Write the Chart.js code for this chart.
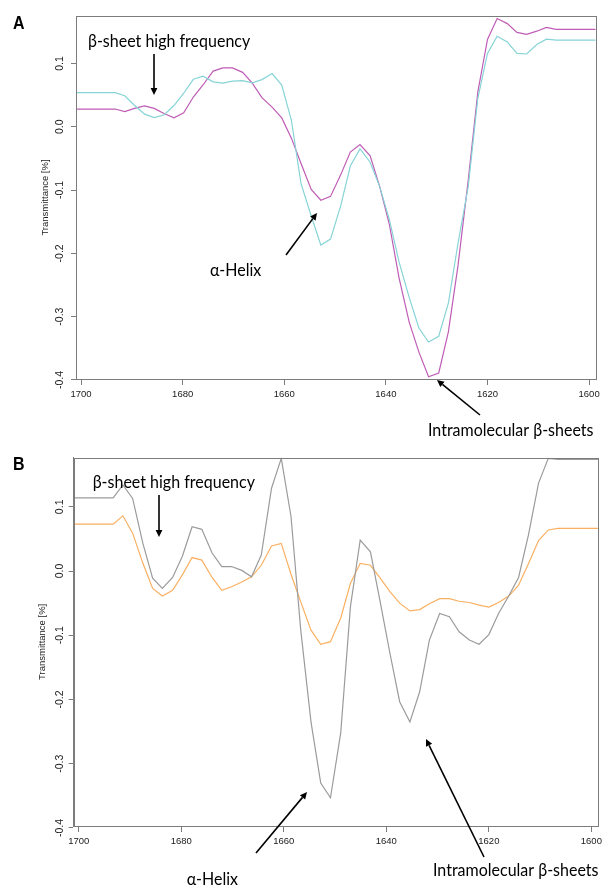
<!DOCTYPE html>
<html>
<head>
<meta charset="utf-8">
<title>Amide I second-derivative spectra</title>
<script src="https://cdn.jsdelivr.net/npm/chart.js@4.4.1/dist/chart.umd.min.js"></script>
<style>
  html, body { margin: 0; padding: 0; background: #fff; }
  #page { position: relative; width: 606px; height: 886px; overflow: hidden; background: #fff; }
  #page canvas { position: absolute; left: 0; }
  #panel-a { top: 0; }
  #panel-b { top: 445px; }
</style>
</head>
<body>
<div id="page">
  <canvas id="panel-a" width="606" height="445" style="width:606px;height:445px"></canvas>
  <canvas id="panel-b" width="606" height="441" style="width:606px;height:441px"></canvas>
</div>
<script>
'use strict';

// ── Data ───────────────────────────────────────────────────────────────────
// wavenumber grid (cm-1), ~1.93 cm-1 spacing, high to low
const wavenumbers = [
  1701.0, 1699.1, 1697.2, 1695.3, 1693.3, 1691.4, 1689.5, 1687.5, 1685.6, 1683.7,
  1681.7, 1679.8, 1677.9, 1676.0, 1674.0, 1672.1, 1670.2, 1668.2, 1666.3, 1664.4,
  1662.4, 1660.5, 1658.6, 1656.7, 1654.7, 1652.8, 1650.9, 1648.9, 1647.0, 1645.1,
  1643.1, 1641.2, 1639.3, 1637.4, 1635.4, 1633.5, 1631.6, 1629.6, 1627.7, 1625.8,
  1623.8, 1621.9, 1620.0, 1618.1, 1616.1, 1614.2, 1612.3, 1610.3, 1608.4, 1606.5,
  1604.5, 1602.6, 1600.7, 1598.7
];

// panel A
const magentaA = [
  0.028, 0.028, 0.028, 0.028, 0.028, 0.024, 0.029, 0.033, 0.029, 0.021,
  0.014, 0.022, 0.047, 0.066, 0.088, 0.093, 0.093, 0.086, 0.069, 0.046,
  0.031, 0.014, -0.018, -0.058, -0.099, -0.116, -0.110, -0.076, -0.040, -0.028,
  -0.046, -0.095, -0.155, -0.239, -0.309, -0.356, -0.395, -0.389, -0.324, -0.219,
  -0.085, 0.055, 0.138, 0.171, 0.163, 0.149, 0.146, 0.151, 0.157, 0.154,
  0.154, 0.154, 0.154, 0.154
];
const cyanA = [
  0.054, 0.054, 0.054, 0.054, 0.054, 0.049, 0.034, 0.020, 0.0145, 0.0185,
  0.0335, 0.053, 0.075, 0.080, 0.071, 0.069, 0.072, 0.073, 0.0695, 0.0745,
  0.084, 0.066, 0.010, -0.090, -0.141, -0.187, -0.1775, -0.125, -0.062, -0.035,
  -0.056, -0.095, -0.147, -0.214, -0.270, -0.318, -0.340, -0.331, -0.2785, -0.184,
  -0.095, 0.045, 0.116, 0.143, 0.134, 0.116, 0.115, 0.130, 0.1385, 0.137,
  0.137, 0.137, 0.137, 0.137
];

// panel B
const grayB = [
  0.114, 0.114, 0.114, 0.114, 0.114, 0.134, 0.113, 0.043, -0.011, -0.027,
  -0.010, 0.023, 0.069, 0.065, 0.028, 0.007, 0.007, 0.001, -0.009, 0.025,
  0.129, 0.1755, 0.085, -0.092, -0.235, -0.330, -0.353, -0.252, -0.055, 0.048,
  0.030, -0.048, -0.128, -0.2035, -0.235, -0.188, -0.1075, -0.066, -0.071, -0.0945,
  -0.1075, -0.114, -0.099, -0.066, -0.0385, -0.010, 0.055, 0.137, 0.1755, 0.174,
  0.174, 0.174, 0.174, 0.174
];
const orangeB = [
  0.073, 0.073, 0.073, 0.073, 0.073, 0.086, 0.059, 0.012, -0.027, -0.039,
  -0.030, -0.006, 0.021, 0.017, -0.010, -0.030, -0.0245, -0.017, -0.009, 0.009,
  0.039, 0.043, -0.005, -0.048, -0.092, -0.114, -0.110, -0.073, -0.019, 0.012,
  0.009, -0.011, -0.032, -0.050, -0.062, -0.060, -0.051, -0.043, -0.043, -0.047,
  -0.049, -0.053, -0.056, -0.049, -0.039, -0.022, 0.011, 0.0475, 0.064, 0.0665,
  0.0665, 0.0665, 0.0665, 0.0665
];

// axes
const xTicks      = [1700, 1680, 1660, 1640, 1620, 1600];
const xTickLabels = ['1700', '1680', '1660', '1640', '1620', '1600'];
const yTicks      = [0.1, 0.0, -0.1, -0.2, -0.3, -0.4];
const yTickLabels = ['0.1', '0.0', '-0.1', '-0.2', '-0.3', '-0.4'];
const yTitle      = 'Transmittance [%]';

// ── Styles ─────────────────────────────────────────────────────────────────
const AXIS_COLOR = '#7c7c7c';
const TEXT_COLOR = '#1a1a1a';
const TICK_FONT  = '"Liberation Sans", Arial, sans-serif';
const NOTE_FONT  = 'Lato, "Open Sans", sans-serif';
const NOTE_STRETCH = 1.1;

// ── Plugin: box, rotated y labels, annotations ────────────────────────────
const panelDecor = {
  id: 'panelDecor',
  afterDraw(chart, args, opts) {
    const ctx = chart.ctx;
    const { left, top, right, bottom } = chart.chartArea;

    // plot box
    ctx.save();
    ctx.strokeStyle = AXIS_COLOR;
    ctx.lineWidth = 1;
    ctx.strokeRect(Math.round(left) + 0.5, Math.round(top) + 0.5,
                   Math.round(right - left), Math.round(bottom - top));
    ctx.restore();

    // y tick labels, read bottom-to-top like base R
    const ys = chart.scales.y;
    ctx.save();
    ctx.fillStyle = TEXT_COLOR;
    ctx.font = `10.5px ${TICK_FONT}`;
    ctx.textAlign = 'center';
    ctx.textBaseline = 'alphabetic';
    ys.ticks.forEach((t, i) => {
      const py = ys.getPixelForValue(t.value);
      ctx.save();
      ctx.translate(opts.yLabelX, py);
      ctx.rotate(-Math.PI / 2);
      ctx.fillText(yTickLabels[i], 0, 0);
      ctx.restore();
    });
    ctx.restore();

    // text notes
    (opts.texts || []).forEach(n => {
      ctx.save();
      ctx.fillStyle = '#000';
      ctx.font = n.font || `16px ${NOTE_FONT}`;
      ctx.textBaseline = 'alphabetic';
      ctx.translate(n.x, n.y);
      ctx.scale(1, NOTE_STRETCH);
      ctx.fillText(n.text, 0, 0);
      ctx.restore();
    });

    // arrows
    (opts.arrows || []).forEach(a => drawArrow(ctx, a[0], a[1], a[2], a[3]));
  }
};

function drawArrow(ctx, x0, y0, x1, y1) {
  const ang = Math.atan2(y1 - y0, x1 - x0);
  const headLen = 7, headHalf = 3.4;
  const bx = x1 - headLen * Math.cos(ang);
  const by = y1 - headLen * Math.sin(ang);
  ctx.save();
  ctx.strokeStyle = '#000';
  ctx.fillStyle = '#000';
  ctx.lineWidth = 1.6;
  ctx.beginPath();
  ctx.moveTo(x0, y0);
  ctx.lineTo(bx, by);
  ctx.stroke();
  ctx.beginPath();
  ctx.moveTo(x1, y1);
  ctx.lineTo(bx + headHalf * Math.sin(ang), by - headHalf * Math.cos(ang));
  ctx.lineTo(bx - headHalf * Math.sin(ang), by + headHalf * Math.cos(ang));
  ctx.closePath();
  ctx.fill();
  ctx.restore();
}

// ── Panel factory ──────────────────────────────────────────────────────────
function makePanel(canvasId, cfg) {
  return new Chart(document.getElementById(canvasId), {
    type: 'line',
    data: {
      datasets: cfg.series.map(s => ({
        data: wavenumbers.map((x, i) => ({ x, y: s.values[i] })),
        borderColor: s.color,
        borderWidth: 1.2,
        pointRadius: 0,
        tension: 0,
        fill: false
      }))
    },
    options: {
      responsive: false,
      animation: false,
      devicePixelRatio: 1,
      layout: { padding: cfg.padding },
      plugins: {
        legend: { display: false },
        tooltip: { enabled: false },
        panelDecor: cfg.decor
      },
      scales: {
        x: {
          type: 'linear',
          reverse: true,
          min: 1598.7,
          max: 1701.0,
          afterBuildTicks: s => { s.ticks = xTicks.map(v => ({ value: v })); },
          afterFit: s => { s.height = cfg.xHeight; },
          ticks: {
            autoSkip: false,
            maxRotation: 0,
            padding: 4,
            color: TEXT_COLOR,
            font: { family: TICK_FONT, size: 9.5 },
            callback: (v, i) => xTickLabels[i]
          },
          grid: { drawOnChartArea: false, tickLength: 6, color: AXIS_COLOR },
          border: { color: AXIS_COLOR }
        },
        y: {
          type: 'linear',
          min: cfg.yMin,
          max: cfg.yMax,
          afterBuildTicks: s => { s.ticks = yTicks.map(v => ({ value: v })); },
          afterFit: s => { s.width = cfg.yWidth; },
          ticks: { display: false },
          grid: { drawOnChartArea: false, tickLength: 5, color: AXIS_COLOR },
          border: { color: AXIS_COLOR },
          title: {
            display: true,
            text: yTitle,
            color: TEXT_COLOR,
            font: { family: TICK_FONT, size: 9.5 },
            padding: { top: cfg.titlePad, bottom: 0 }
          }
        }
      }
    },
    plugins: [panelDecor]
  });
}

// ── Panel A ────────────────────────────────────────────────────────────────
makePanel('panel-a', {
  series: [
    { values: cyanA,    color: '#86d4d6' },
    { values: magentaA, color: '#bf5db6' }
  ],
  padding: { left: 0, top: 16, right: 10.3, bottom: 0 },
  yWidth: 76,
  xHeight: 66,
  yMin: -0.3985,
  yMax: 0.175,
  titlePad: 39.5,
  decor: {
    yLabelX: 63,
    texts: [
      { text: 'A', x: 13, y: 29, font: `bold 16px ${TICK_FONT}` },
      { text: 'β-sheet high frequency', x: 88, y: 46.5 },
      { text: 'α-Helix', x: 210, y: 276 },
      { text: 'Intramolecular β-sheets', x: 428, y: 436 }
    ],
    arrows: [
      [154, 54, 154, 95],
      [286, 255, 317, 213],
      [480, 415, 437, 380]
    ]
  }
});

// ── Panel B ────────────────────────────────────────────────────────────────
makePanel('panel-b', {
  series: [
    { values: grayB,   color: '#9b9b9b' },
    { values: orangeB, color: '#f9b062' }
  ],
  padding: { left: 0, top: 12.7, right: 6.7, bottom: 0 },
  yWidth: 73.7,
  xHeight: 60,
  yMin: -0.397,
  yMax: 0.1765,
  titlePad: 37,
  decor: {
    yLabelX: 63,
    texts: [
      { text: 'B', x: 13, y: 25, font: `bold 16px ${TICK_FONT}` },
      { text: 'β-sheet high frequency', x: 92.7, y: 43.3 },
      { text: 'α-Helix', x: 186.7, y: 440 },
      { text: 'Intramolecular β-sheets', x: 433, y: 431 }
    ],
    arrows: [
      [159, 50, 159, 92],
      [256, 408, 307, 347],
      [484, 412, 426, 294]
    ]
  }
});
</script>
</body>
</html>
